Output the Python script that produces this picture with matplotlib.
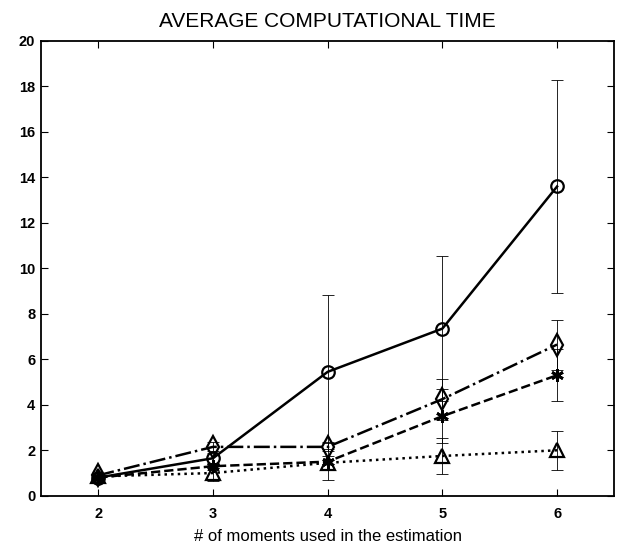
import numpy as np
import matplotlib
matplotlib.use('Agg')
import matplotlib.pyplot as plt

plt.rcParams['font.family'] = 'Liberation Sans'

# number of moments and mean run time (s) with standard deviations
moments = [2, 3, 4, 5, 6]

circ_mean = [0.80, 1.65, 5.45, 7.35, 13.60]
circ_sd = [0.10, 0.25, 3.40, 3.20, 4.70]

diam_mean = [0.90, 2.15, 2.15, 4.25, 6.65]
diam_sd = [0.10, 0.20, 0.20, 0.90, 1.10]

star_mean = [0.80, 1.30, 1.50, 3.50, 5.30]
star_sd = [0.10, 0.15, 0.80, 1.20, 1.15]

tri_mean = [0.85, 1.00, 1.45, 1.75, 2.00]
tri_sd = [0.10, 0.35, 0.30, 0.78, 0.85]

asterisk = (6, 2, 0)

fig = plt.figure(figsize=(6.2, 5.46), dpi=100)
ax = fig.add_axes([0.066, 0.092, 0.925, 0.833])

def series(mean, sd, ls, marker, ms, mew=1.6):
	ax.errorbar(moments, mean, yerr=sd, fmt='none', ecolor='black',
		elinewidth=0.6, capsize=4, capthick=0.6, linestyle=ls)
	ax.plot(moments, mean, linestyle=ls, color='black', lw=1.8,
		marker=marker, ms=ms, mfc='none', mec='black', mew=mew)

series(circ_mean, circ_sd, '-', 'o', 9)
series(diam_mean, diam_sd, '-.', 'd', 11)
series(star_mean, star_sd, '--', asterisk, 9, 2.0)
series(tri_mean, tri_sd, ':', '^', 10)

ax.set_xlim(1.5, 6.5)
ax.set_ylim(0, 20)
ax.set_xticks(moments)
ax.set_yticks(np.arange(0, 21, 2))
ax.tick_params(direction='in', top=True, right=True, length=5, width=0.8)
for lbl in ax.get_xticklabels() + ax.get_yticklabels():
	lbl.set_fontweight('bold')
	lbl.set_fontsize(10.5)
ax.tick_params(axis='x', pad=8)
ax.tick_params(axis='y', pad=4)
for s in ax.spines.values():
	s.set_linewidth(1.3)

ax.set_title('AVERAGE COMPUTATIONAL TIME', fontsize=15, pad=10)
ax.set_xlabel('# of moments used in the estimation', fontsize=12)
ax.xaxis.set_label_coords(0.5, -0.072)

plt.savefig('out.png')
plt.close()
